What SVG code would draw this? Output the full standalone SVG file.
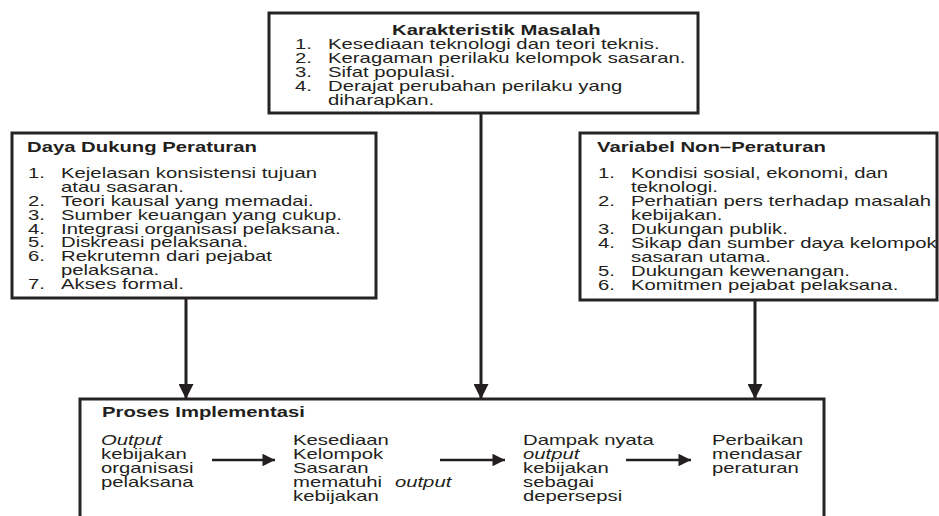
<svg xmlns="http://www.w3.org/2000/svg" width="939" height="516" viewBox="0 0 939 516">
<defs>
<style>
.box{fill:#fff;stroke:#262324;stroke-width:3}
.t{font-family:"Liberation Sans",Arial,sans-serif;font-size:14px;fill:#231f20}
.b{font-weight:bold}
.i{font-style:italic}
.ln{stroke:#231f20;stroke-width:3;fill:none}
.sl{stroke:#231f20;stroke-width:2.5;fill:none}
</style>
<marker id="ah" viewBox="0 0 10 10" refX="10" refY="5" markerWidth="5" markerHeight="5" markerUnits="strokeWidth" orient="auto">
<path d="M0,0 L10,5 L0,10 z" fill="#231f20"/>
</marker>
<marker id="ah2" viewBox="0 0 10 10" refX="10" refY="5" markerWidth="5.5" markerHeight="5" markerUnits="strokeWidth" orient="auto">
<path d="M0,0 L10,5 L0,10 z" fill="#231f20"/>
</marker>
</defs>
<rect width="939" height="516" fill="#fff"/>

<g id="connectors">
<line class="ln" x1="186" y1="298" x2="186" y2="399" marker-end="url(#ah)"/>
<line class="ln" x1="481" y1="113" x2="481" y2="399" marker-end="url(#ah)"/>
<line class="ln" x1="755" y1="300" x2="755" y2="399" marker-end="url(#ah)"/>
</g>

<g id="karakteristik-masalah">
<rect class="box" x="269" y="13" width="429" height="100"/>
<g class="t" transform="translate(295 0) scale(1.45 1)">
<text class="b" x="66.9" y="35">Karakteristik Masalah</text>
<text x="0" y="49">1.</text><text x="22.8" y="49">Kesediaan teknologi dan teori teknis.</text>
<text x="0" y="63">2.</text><text x="22.8" y="63">Keragaman perilaku kelompok sasaran.</text>
<text x="0" y="77">3.</text><text x="22.8" y="77">Sifat populasi.</text>
<text x="0" y="91">4.</text><text x="22.8" y="91">Derajat perubahan perilaku yang</text>
<text x="22.8" y="105">diharapkan.</text>
</g>
</g>

<g id="daya-dukung-peraturan">
<rect class="box" x="12" y="133" width="364" height="165"/>
<g class="t" transform="translate(28 0) scale(1.45 1)">
<text class="b" x="-0.7" y="152">Daya Dukung Peraturan</text>
<text x="0" y="178">1.</text><text x="22.8" y="178">Kejelasan konsistensi tujuan</text>
<text x="22.8" y="192">atau sasaran.</text>
<text x="0" y="205.8">2.</text><text x="22.8" y="205.8">Teori kausal yang memadai.</text>
<text x="0" y="219.7">3.</text><text x="22.8" y="219.7">Sumber keuangan yang cukup.</text>
<text x="0" y="233.6">4.</text><text x="22.8" y="233.6">Integrasi organisasi pelaksana.</text>
<text x="0" y="247.5">5.</text><text x="22.8" y="247.5">Diskreasi pelaksana.</text>
<text x="0" y="261.4">6.</text><text x="22.8" y="261.4">Rekrutemn dari pejabat</text>
<text x="22.8" y="275.3">pelaksana.</text>
<text x="0" y="289.2">7.</text><text x="22.8" y="289.2">Akses formal.</text>
</g>
</g>

<g id="variabel-non-peraturan">
<rect class="box" x="580" y="133" width="357" height="167"/>
<g class="t" transform="translate(598 0) scale(1.45 1)">
<text class="b" x="-0.7" y="152">Variabel Non–Peraturan</text>
<text x="0" y="178">1.</text><text x="22.8" y="178">Kondisi sosial, ekonomi, dan</text>
<text x="22.8" y="192">teknologi.</text>
<text x="0" y="206">2.</text><text x="22.8" y="206">Perhatian pers terhadap masalah</text>
<text x="22.8" y="220">kebijakan.</text>
<text x="0" y="234">3.</text><text x="22.8" y="234">Dukungan publik.</text>
<text x="0" y="248">4.</text><text x="22.8" y="248">Sikap dan sumber daya kelompok</text>
<text x="22.8" y="262">sasaran utama.</text>
<text x="0" y="276">5.</text><text x="22.8" y="276">Dukungan kewenangan.</text>
<text x="0" y="290">6.</text><text x="22.8" y="290">Komitmen pejabat pelaksana.</text>
</g>
</g>

<g id="proses-implementasi">
<rect class="box" x="80" y="399" width="744" height="140"/>
<g class="t" transform="translate(101 0) scale(1.45 1)">
<text class="b" x="0.7" y="417">Proses Implementasi</text>
<text class="i" x="0" y="445">Output</text>
<text x="0" y="459">kebijakan</text>
<text x="0" y="473">organisasi</text>
<text x="0" y="487">pelaksana</text>
</g>
<g class="t" transform="translate(293 0) scale(1.45 1)">
<text x="0" y="445">Kesediaan</text>
<text x="0" y="459">Kelompok</text>
<text x="0" y="473">Sasaran</text>
<text x="0" y="487">mematuhi</text>
<text class="i" x="70.3" y="487">output</text>
<text x="0" y="501">kebijakan</text>
</g>
<g class="t" transform="translate(523 0) scale(1.45 1)">
<text x="0" y="445">Dampak nyata</text>
<text class="i" x="0" y="459">output</text>
<text x="0" y="473">kebijakan</text>
<text x="0" y="487">sebagai</text>
<text x="0" y="501">depersepsi</text>
</g>
<g class="t" transform="translate(712 0) scale(1.45 1)">
<text x="0" y="445">Perbaikan</text>
<text x="0" y="459">mendasar</text>
<text x="0" y="473">peraturan</text>
</g>
<g id="inner-connectors">
<line class="sl" x1="212" y1="460" x2="275" y2="460" marker-end="url(#ah2)"/>
<line class="sl" x1="440" y1="460" x2="505" y2="460" marker-end="url(#ah2)"/>
<line class="sl" x1="626" y1="460" x2="691" y2="460" marker-end="url(#ah2)"/>
</g>
</g>
</svg>
